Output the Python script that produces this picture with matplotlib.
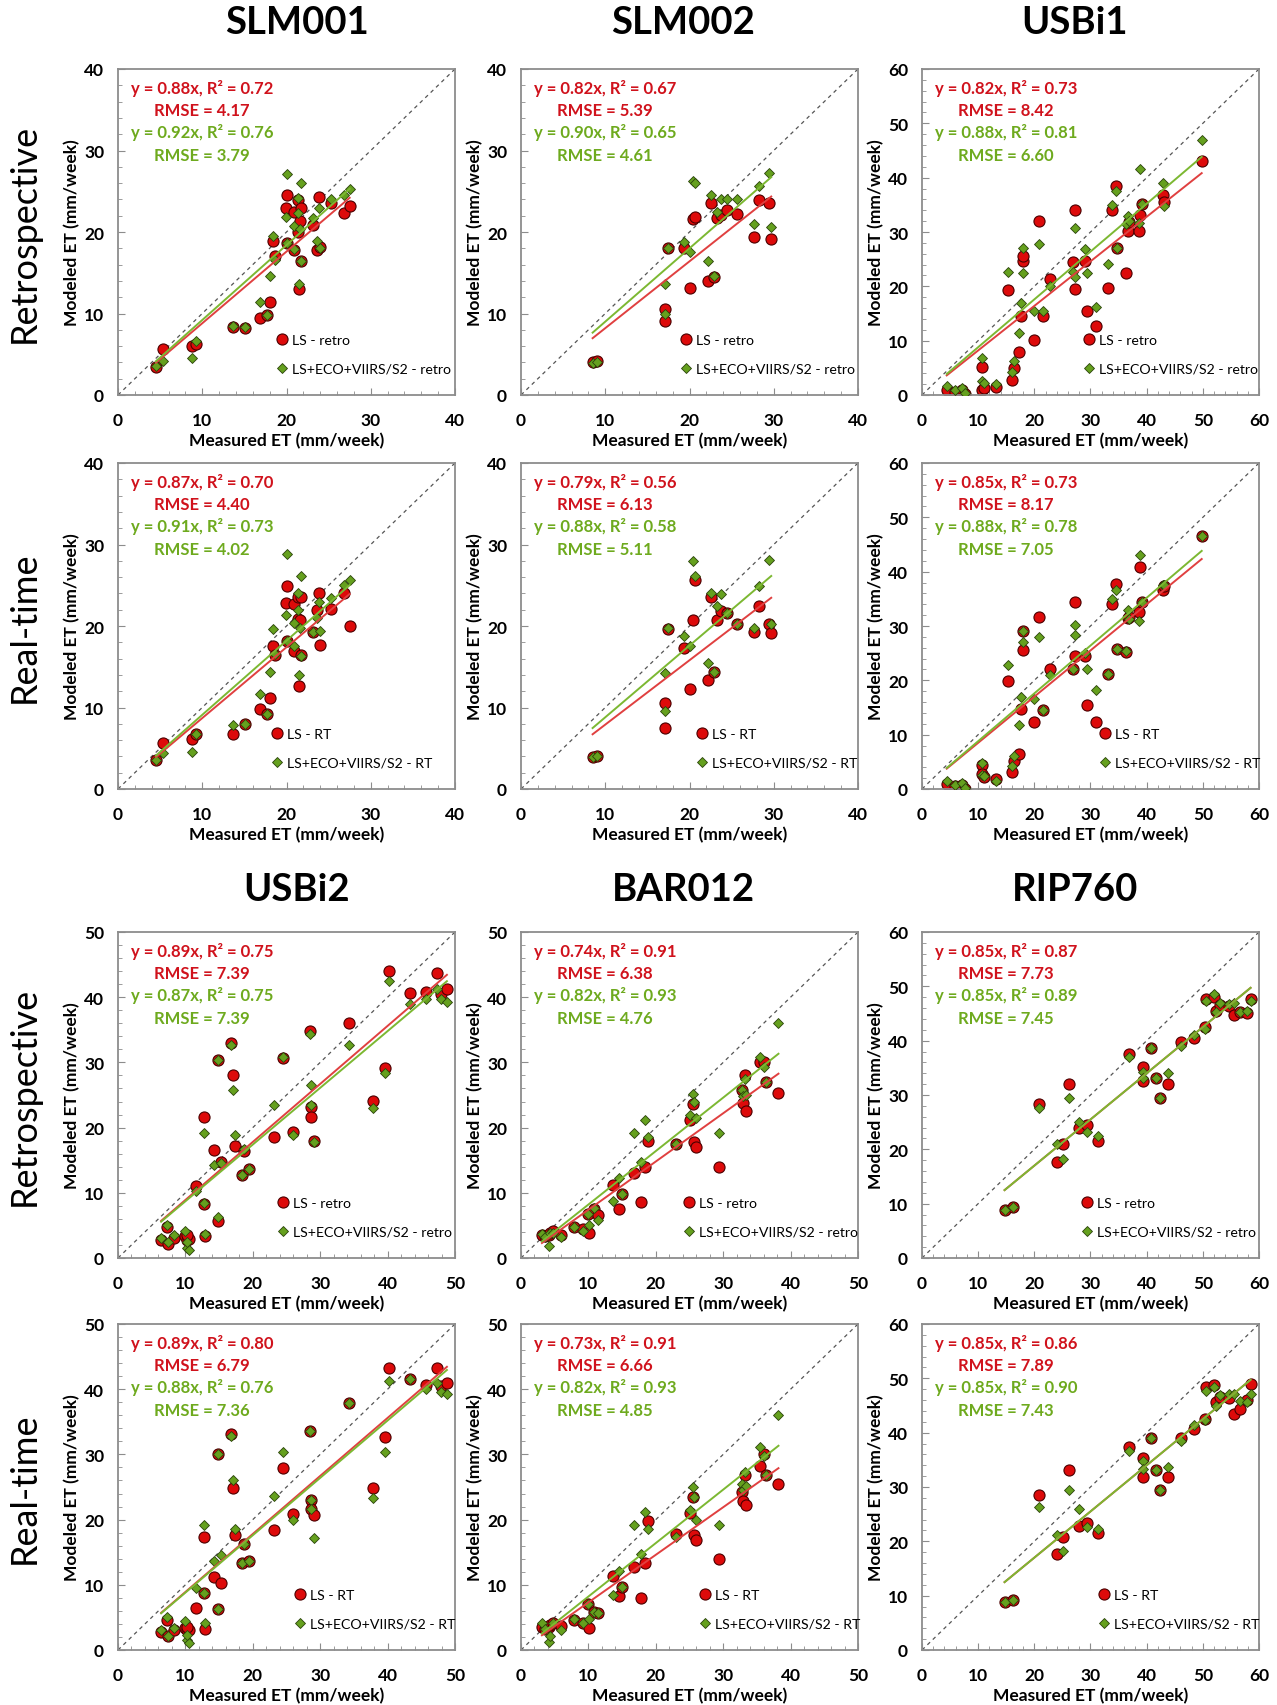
import numpy as np
import matplotlib
matplotlib.use('Agg')
import matplotlib.pyplot as plt
from matplotlib.ticker import MultipleLocator

plt.rcParams['font.family'] = ['Lato', 'DejaVu Sans']

# ---- data (measured x shared by retro / RT panels) ----
slm001_x = [4.5, 5.3, 8.8, 9.3, 13.6, 15.1, 16.9, 17.7, 18.1, 18.4, 18.6, 20.0, 19.9, 20.1, 20.9,
            20.9, 21.4, 21.4, 21.6, 21.5, 21.7, 21.7, 23.2, 23.6, 23.9, 24.0, 25.3, 26.8, 27.5]
slm001_ls_retro = [3.4, 5.6, 6.0, 6.3, 8.4, 8.2, 9.4, 9.8, 11.4, 18.9, 17.1, 24.5, 22.9, 18.6, 17.8,
                   22.5, 23.9, 20.0, 21.3, 13.0, 23.0, 16.4, 20.9, 17.8, 24.3, 18.1, 23.6, 22.3, 23.2]
slm001_combo_retro = [3.5, 4.2, 4.6, 6.6, 8.5, 8.4, 11.4, 9.8, 14.6, 19.5, 16.6, 27.1, 21.9, 18.6, 17.9,
                      20.7, 24.2, 22.3, 20.4, 13.6, 26.0, 16.5, 21.7, 18.9, 22.9, 18.0, 24.0, 24.5, 25.3]
slm001_ls_rt = [3.5, 5.7, 6.1, 6.7, 6.7, 8.0, 9.8, 9.2, 11.2, 17.5, 16.4, 24.9, 22.8, 18.2, 16.9,
                22.7, 23.5, 20.9, 20.7, 12.6, 23.5, 16.4, 19.3, 22.0, 24.1, 17.7, 22.1, 24.0, 20.0]
slm001_combo_rt = [3.5, 4.4, 4.6, 6.7, 7.9, 8.0, 11.7, 9.2, 14.4, 19.6, 16.6, 28.8, 21.3, 18.2, 17.5,
                   20.4, 24.0, 22.0, 19.8, 14.0, 26.1, 16.3, 19.3, 21.0, 23.0, 19.4, 23.4, 25.0, 25.6]

slm002_x = [8.5, 9.0, 17.1, 17.1, 17.5, 19.4, 20.0, 20.4, 20.6, 22.2, 22.9, 22.5, 23.3, 23.7, 24.5,
            25.6, 27.7, 28.2, 29.4, 29.7]
slm002_ls_retro = [4.0, 4.2, 9.1, 10.5, 18.0, 18.0, 13.1, 21.6, 21.8, 14.0, 14.5, 23.5, 21.7, 22.1, 22.7,
                   22.2, 19.4, 23.9, 23.6, 19.2]
slm002_combo_retro = [3.9, 4.1, 9.9, 13.6, 18.0, 18.8, 17.6, 26.3, 26.0, 16.4, 14.6, 24.5, 22.5, 24.0, 24.0,
                      24.0, 21.0, 25.7, 27.3, 20.6]
slm002_ls_rt = [3.9, 4.1, 7.5, 10.6, 19.6, 17.3, 12.3, 20.7, 25.6, 13.4, 14.4, 23.5, 20.7, 21.8, 21.6,
                20.2, 19.3, 22.4, 20.2, 19.2]
slm002_combo_rt = [3.9, 4.1, 9.6, 14.2, 19.7, 18.8, 17.6, 28.0, 26.1, 15.5, 14.4, 24.0, 22.4, 23.9, 21.6,
                   20.3, 19.8, 24.9, 28.1, 20.2]

usbi1_x = [4.4, 5.9, 7.1, 7.7, 10.6, 10.7, 11.0, 13.2, 15.4, 16.0, 16.3, 17.2, 17.7, 17.9, 18.0,
           20.0, 20.9, 21.5, 22.8, 26.8, 27.2, 27.3, 29.0, 29.3, 31.0, 33.2, 33.8, 34.5, 34.8,
           36.3, 36.7, 36.8, 38.7, 38.8, 39.1, 42.9, 43.1, 49.8]
usbi1_ls_retro = [1.0, 0.6, 1.0, 0.2, 5.2, 1.0, 1.2, 1.5, 19.3, 2.8, 5.0, 8.0, 14.6, 24.6, 25.5,
                  10.1, 32.1, 14.6, 21.3, 24.4, 34.1, 19.5, 24.7, 15.5, 12.7, 19.7, 34.1, 38.4, 27.0,
                  22.5, 30.2, 31.8, 30.2, 33.2, 35.1, 36.9, 35.5, 43.1]
usbi1_combo_retro = [1.7, 0.9, 1.2, 0.4, 6.9, 2.5, 2.2, 2.0, 22.7, 4.3, 6.3, 11.4, 17.0, 27.0, 22.5,
                     15.4, 27.8, 15.4, 20.1, 22.7, 30.8, 21.7, 26.8, 22.4, 16.2, 24.1, 35.0, 37.5, 27.0,
                     31.5, 33.0, 32.0, 31.6, 41.6, 35.2, 39.0, 34.8, 46.9]
usbi1_ls_rt = [1.0, 0.5, 0.8, 0.0, 4.5, 2.8, 2.3, 1.8, 19.9, 3.1, 5.1, 6.5, 14.7, 29.1, 25.6,
               12.3, 31.6, 14.6, 22.0, 22.1, 34.4, 24.4, 24.4, 15.5, 12.3, 21.2, 34.0, 37.8, 25.8,
               25.3, 31.5, 31.6, 32.5, 40.8, 34.4, 36.7, 37.3, 46.5]
usbi1_combo_rt = [1.4, 0.8, 1.1, 0.2, 4.7, 2.6, 2.4, 1.4, 22.8, 4.3, 6.0, 11.7, 16.9, 29.1, 27.0,
                  16.6, 28.0, 14.6, 20.9, 22.0, 30.2, 28.4, 25.0, 22.0, 18.3, 21.2, 35.0, 36.7, 25.8,
                  25.4, 33.0, 31.3, 30.9, 43.1, 34.4, 37.5, 37.6, 46.5]

usbi2_x = [6.4, 7.3, 7.4, 8.3, 9.9, 10.2, 10.6, 10.3, 11.5, 12.8, 12.8, 12.9, 14.2, 14.8, 14.9,
           15.3, 16.7, 17.0, 17.3, 18.7, 18.4, 19.4, 23.1, 24.5, 25.9, 28.5, 28.6, 28.7, 29.1,
           34.3, 37.9, 39.6, 40.2, 43.3, 45.7, 47.4, 47.9, 48.8]
usbi2_ls_retro = [2.7, 4.8, 2.1, 3.1, 3.3, 2.8, 2.9, 3.6, 11.1, 21.7, 8.3, 3.3, 16.5, 5.6, 30.3,
                  14.8, 33.0, 28.1, 17.2, 16.4, 12.8, 13.7, 18.6, 30.6, 19.4, 34.8, 23.1, 21.7, 18.0,
                  36.0, 24.1, 29.2, 44.0, 40.7, 40.8, 43.7, 40.5, 41.3]
usbi2_combo_retro = [3.1, 5.1, 2.4, 3.6, 4.1, 1.6, 1.3, 2.4, 10.2, 19.2, 8.4, 3.7, 14.3, 6.3, 30.4,
                     14.6, 32.6, 25.8, 18.9, 16.7, 12.8, 13.7, 23.5, 30.9, 18.9, 34.3, 26.6, 23.5, 17.8,
                     32.6, 23.0, 28.4, 42.5, 38.9, 39.8, 41.2, 39.8, 39.3]
usbi2_ls_rt = [2.7, 4.6, 2.1, 3.0, 3.3, 3.1, 3.1, 3.6, 6.4, 17.4, 8.7, 3.2, 11.2, 6.3, 30.1,
               10.3, 33.2, 24.8, 17.6, 16.3, 13.3, 13.7, 18.4, 27.9, 20.9, 33.6, 23.0, 21.7, 20.7,
               37.9, 24.9, 32.7, 43.3, 41.6, 40.7, 43.2, 40.5, 41.0]
usbi2_combo_rt = [3.0, 5.0, 2.1, 3.3, 4.4, 1.5, 1.0, 2.3, 9.5, 19.2, 8.7, 4.1, 13.6, 6.3, 30.1,
                  14.6, 32.8, 26.1, 18.5, 16.3, 13.3, 13.7, 23.6, 30.4, 20.0, 33.6, 23.0, 21.7, 17.2,
                  37.9, 23.3, 30.3, 41.2, 41.6, 40.0, 41.0, 39.5, 39.2]

bar012_x = [3.1, 3.5, 4.1, 4.3, 4.8, 6.0, 7.9, 9.2, 10.1, 9.9, 10.8, 11.4, 13.6, 14.5, 15.0,
            16.8, 17.8, 18.4, 18.9, 23.0, 25.1, 25.5, 25.6, 26.0, 29.4, 32.8, 33.0, 33.3, 33.4,
            35.5, 36.0, 36.4, 38.2]
bar012_ls_retro = [3.6, 3.3, 3.6, 3.9, 4.1, 3.6, 4.8, 4.4, 3.9, 6.8, 7.5, 6.6, 11.2, 7.5, 9.8,
                   13.0, 8.6, 14.0, 17.9, 17.5, 21.2, 23.6, 17.8, 17.1, 13.9, 25.7, 23.7, 28.0, 22.5,
                   30.1, 30.1, 27.0, 25.3]
bar012_combo_retro = [3.7, 3.2, 1.8, 3.9, 3.9, 3.2, 4.8, 4.2, 5.0, 6.8, 7.6, 5.8, 8.8, 12.2, 9.8,
                      19.1, 14.8, 21.2, 18.6, 17.5, 22.0, 25.2, 23.9, 21.5, 19.1, 25.7, 24.9, 27.5, 25.0,
                      30.8, 29.3, 27.0, 36.0]
bar012_ls_rt = [3.5, 3.2, 3.6, 3.8, 4.1, 3.7, 4.6, 4.2, 3.3, 7.1, 5.9, 5.7, 11.3, 8.3, 9.7,
                12.8, 7.9, 13.3, 19.8, 17.8, 21.0, 23.5, 17.6, 16.8, 13.9, 24.2, 22.9, 26.8, 22.2,
                28.2, 30.1, 26.9, 25.5]
bar012_combo_rt = [4.1, 3.2, 1.3, 2.1, 4.1, 3.1, 4.8, 4.2, 4.8, 7.1, 5.9, 5.7, 8.5, 12.1, 9.7,
                   19.1, 14.8, 21.2, 18.6, 17.4, 21.4, 25.0, 23.5, 19.9, 19.1, 25.5, 24.6, 27.3, 25.2,
                   31.1, 29.7, 26.9, 36.1]

rip760_x = [14.7, 16.2, 20.9, 24.0, 25.1, 26.1, 28.0, 29.4, 31.3, 36.8, 39.3, 39.4, 40.8, 41.7,
            42.3, 43.8, 46.2, 48.4, 50.3, 50.6, 51.9, 52.4, 53.0, 54.7, 55.6, 56.7, 57.9, 58.5]
rip760_ls_retro = [8.8, 9.4, 28.3, 17.6, 20.9, 32.1, 24.0, 24.4, 21.6, 37.6, 35.2, 32.6, 38.6, 33.2,
                   29.4, 32.1, 39.7, 40.4, 42.5, 47.6, 48.1, 45.5, 46.5, 46.4, 44.7, 45.3, 45.1, 47.7]
rip760_combo_retro = [8.8, 9.4, 27.6, 20.9, 18.2, 29.4, 25.1, 23.2, 22.5, 37.0, 34.2, 33.2, 38.6, 33.2,
                      29.4, 34.1, 39.1, 41.0, 42.1, 47.3, 48.5, 45.3, 47.0, 46.7, 47.0, 45.3, 45.5, 47.3]
rip760_ls_rt = [8.9, 9.2, 28.5, 17.6, 20.8, 33.1, 22.9, 23.4, 21.6, 37.4, 35.4, 31.9, 39.1, 33.2,
                29.4, 31.9, 39.1, 40.7, 42.6, 48.4, 48.8, 45.7, 46.6, 46.3, 43.4, 44.4, 46.0, 48.9]
rip760_combo_rt = [8.9, 9.2, 26.4, 21.1, 18.2, 29.4, 26.0, 22.7, 22.3, 36.7, 34.8, 33.3, 39.1, 33.2,
                   29.4, 33.7, 38.4, 41.4, 42.3, 47.7, 48.4, 45.0, 47.0, 47.1, 47.1, 45.8, 45.7, 47.1]

site_names = ['SLM001', 'SLM002', 'USBi1', 'USBi2', 'BAR012', 'RIP760']
axis_max = [40, 40, 60, 50, 50, 60]

# slope, R2, RMSE for (LS, LS+ECO+VIIRS/S2)
stats_retro = [((0.88, 0.72, 4.17), (0.92, 0.76, 3.79)),
               ((0.82, 0.67, 5.39), (0.90, 0.65, 4.61)),
               ((0.82, 0.73, 8.42), (0.88, 0.81, 6.60)),
               ((0.89, 0.75, 7.39), (0.87, 0.75, 7.39)),
               ((0.74, 0.91, 6.38), (0.82, 0.93, 4.76)),
               ((0.85, 0.87, 7.73), (0.85, 0.89, 7.45))]
stats_rt = [((0.87, 0.70, 4.40), (0.91, 0.73, 4.02)),
            ((0.79, 0.56, 6.13), (0.88, 0.58, 5.11)),
            ((0.85, 0.73, 8.17), (0.88, 0.78, 7.05)),
            ((0.89, 0.80, 6.79), (0.88, 0.76, 7.36)),
            ((0.73, 0.91, 6.66), (0.82, 0.93, 4.85)),
            ((0.85, 0.86, 7.89), (0.85, 0.90, 7.43))]

site_x = [slm001_x, slm002_x, usbi1_x, usbi2_x, bar012_x, rip760_x]
site_retro = [(slm001_ls_retro, slm001_combo_retro), (slm002_ls_retro, slm002_combo_retro),
              (usbi1_ls_retro, usbi1_combo_retro), (usbi2_ls_retro, usbi2_combo_retro),
              (bar012_ls_retro, bar012_combo_retro), (rip760_ls_retro, rip760_combo_retro)]
site_rt = [(slm001_ls_rt, slm001_combo_rt), (slm002_ls_rt, slm002_combo_rt),
           (usbi1_ls_rt, usbi1_combo_rt), (usbi2_ls_rt, usbi2_combo_rt),
           (bar012_ls_rt, bar012_combo_rt), (rip760_ls_rt, rip760_combo_rt)]

# colours
red_face, red_edge, red_line, red_text = '#dd0a0a', '#4a0000', '#e04040', '#d0121c'
grn_face, grn_edge, grn_line, grn_text = '#65a01e', '#2a420a', '#7cb832', '#6eaa1e'
frame_col = '#8c8c8c'

# layout in pixels
W, H = 1277, 1706
col_left = [118, 521, 922]
row_top = [70, 464, 933, 1325]
ax_w, ax_h = 337, 326
legend_x = [[0.487, 0.488, 0.496], [0.47, 0.536, 0.543], [0.49, 0.497, 0.49], [0.54, 0.545, 0.54]]

fig = plt.figure(figsize=(W / 100, H / 100), dpi=100)


def draw_panel(row, col, site, mode):
    left, top = col_left[col], row_top[row]
    ax = fig.add_axes([left / W, 1 - (top + ax_h) / H, ax_w / W, ax_h / H])
    lim = axis_max[site]
    x = np.array(site_x[site])
    y_ls, y_combo = site_retro[site] if mode == 'retro' else site_rt[site]
    st_ls, st_combo = stats_retro[site] if mode == 'retro' else stats_rt[site]

    # 1:1 line
    ax.plot([0, lim], [0, lim], linestyle=(0, (3, 3)), color='#555555', lw=0.9, zorder=1)

    h_ls, = ax.plot(x, y_ls, 'o', ms=8, mfc=red_face, mec=red_edge, mew=0.8, zorder=2,
                    label='LS - ' + mode)
    h_combo, = ax.plot(x, y_combo, 'D', ms=5.5, mfc=grn_face, mec=grn_edge, mew=0.6, zorder=3,
                       label='LS+ECO+VIIRS/S2 - ' + mode)

    # regression lines through origin, drawn over the data range
    xs = np.array([x.min(), x.max()])
    ax.plot(xs, st_ls[0] * xs, color=red_line, lw=1.4, zorder=4)
    ax.plot(xs, st_combo[0] * xs, color=grn_line, lw=1.4, zorder=4)

    txt = [('y = %.2fx, R² = %.2f' % (st_ls[0], st_ls[1]), red_text),
           ('RMSE = %.2f' % st_ls[2], red_text),
           ('y = %.2fx, R² = %.2f' % (st_combo[0], st_combo[1]), grn_text),
           ('RMSE = %.2f' % st_combo[2], grn_text)]
    for (s, c), yy in zip(txt, [0.942, 0.874, 0.807, 0.737]):
        ax.text(0.25, yy, s, color=c, fontsize=12, fontweight='bold', ha='center', va='center',
                transform=ax.transAxes)

    ax.legend(handles=[h_ls, h_combo], loc='lower left',
              bbox_to_anchor=(legend_x[row][col] - 0.016, 0.062), frameon=False, fontsize=10.2,
              borderpad=0, borderaxespad=0, handlelength=0.8, handletextpad=0.3,
              labelspacing=1.2, numpoints=1)

    ax.set_xlim(0, lim)
    ax.set_ylim(0, lim)
    ticks = np.arange(0, lim + 1, 10)
    ax.set_xticks(ticks)
    ax.set_yticks(ticks)
    ax.set_xticklabels([str(t) for t in ticks], fontweight='bold', fontsize=12.5)
    ax.set_yticklabels([str(t) for t in ticks], fontweight='bold', fontsize=12.5)
    ax.xaxis.set_minor_locator(MultipleLocator(2))
    ax.yaxis.set_minor_locator(MultipleLocator(2))
    ax.tick_params(which='both', direction='in', color=frame_col, top=False, right=False)
    ax.tick_params(which='major', length=5)
    ax.tick_params(which='minor', length=3)
    ax.tick_params(axis='x', pad=12)
    ax.tick_params(axis='y', pad=10)
    for sp in ax.spines.values():
        sp.set_color(frame_col)
        sp.set_linewidth(1.3)

    ax.set_xlabel('Measured ET (mm/week)', fontsize=12.5, fontweight='bold')
    ax.set_ylabel('Modeled ET (mm/week)', fontsize=12.5, fontweight='bold')
    ax.xaxis.set_label_coords(0.5, -0.113)
    ax.yaxis.set_label_coords(-0.113, 0.5)
    return ax


for block in range(2):
    for col in range(3):
        site = block * 3 + col
        draw_panel(block * 2, col, site, 'retro')
        draw_panel(block * 2 + 1, col, site, 'RT')

# site titles
title_x = [297, 683, 1075]
for block, ty in enumerate([23, 890]):
    for col in range(3):
        fig.text(title_x[col] / W, 1 - ty / H, site_names[block * 3 + col], fontsize=27.5,
                 fontweight='bold', ha='center', va='center')

# row labels
row_labels = ['Retrospective', 'Real-time', 'Retrospective', 'Real-time']
for r, lab in enumerate(row_labels):
    cy = row_top[r] + ax_h / 2
    fig.text(24 / W, 1 - cy / H, lab, fontsize=26, rotation=90, ha='center', va='center')

fig.savefig('out.png', dpi=100, facecolor='white')
